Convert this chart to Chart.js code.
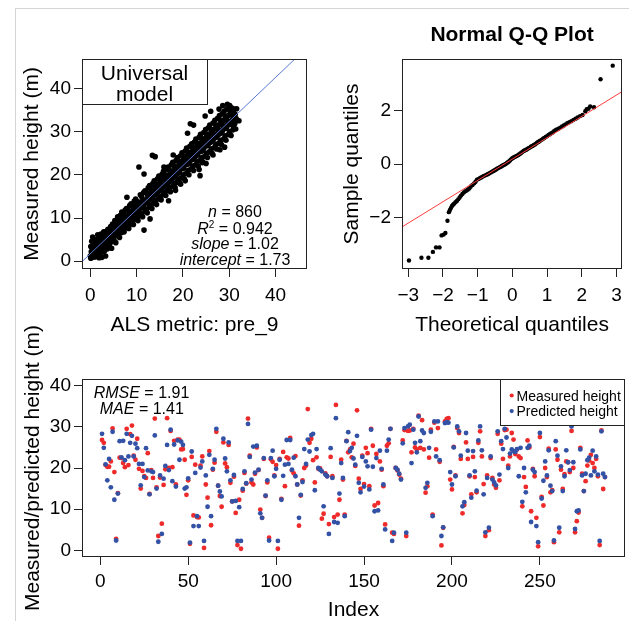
<!DOCTYPE html>
<html><head><meta charset="utf-8">
<script src="https://cdn.jsdelivr.net/npm/chart.js@4"></script>
<style>
html,body{margin:0;padding:0;background:#fff;}
#wrap{position:relative;width:629px;height:621px;overflow:hidden;background:#fff;}
canvas{position:absolute;left:0;top:0;}
</style>
</head><body><div id="wrap"></div>
<script>
const FONT = '"Liberation Sans", Arial, Helvetica, sans-serif';

// ---------- Panel 1: universal model ----------
const panel1XTitle = 'ALS metric: pre_9';
const panel1YTitle = 'Measured height (m)';
const panel1Label = ['Universal', 'model'];
const fitN = 860, fitR2 = 0.942, fitSlope = 1.02, fitIntercept = 1.73;
// [ALS metric, measured height]
const alsVsMeasured = [
[0.0,1.2],[0.1,3.4],[0.1,0.7],[0.2,2.2],[0.3,4.6],[0.3,1.5],[0.4,2.9],[0.5,0.9],[0.5,5.6],[0.6,2.0],[0.7,3.6],[0.8,1.3],[0.8,4.2],[0.9,2.6],
[1.0,1.0],[1.1,3.9],[1.1,2.2],[1.2,5.0],[1.3,1.6],[1.4,3.1],[1.5,4.4],[1.5,2.5],[1.6,6.1],[1.7,1.1],[1.7,3.5],[1.8,2.8],[1.9,4.9],[1.9,0.8],
[2.0,3.3],[2.1,5.2],[2.1,1.7],[2.2,4.0],[2.3,6.3],[2.4,2.6],[2.5,4.6],[2.5,0.9],[2.6,3.6],[2.7,5.5],[2.8,2.2],[2.8,4.3],[2.9,6.8],[2.9,3.1],
[3.0,4.1],[3.1,2.4],[3.1,5.9],[3.2,4.8],[3.3,1.2],[3.4,3.6],[3.5,5.3],[3.5,6.9],[3.6,4.4],[3.7,2.9],[3.8,5.7],[3.8,7.4],[3.9,4.9],[3.9,3.3],
[4.0,5.6],[4.1,3.5],[4.1,7.2],[4.2,6.1],[4.3,4.3],[4.4,8.0],[4.5,5.2],[4.5,6.6],[4.6,3.0],[4.7,7.5],[4.8,5.9],[4.8,8.6],[4.9,6.4],[4.9,4.6],
[5.0,6.7],[5.1,8.6],[5.1,5.1],[5.2,7.3],[5.3,9.4],[5.4,6.0],[5.5,7.9],[5.5,4.3],[5.6,7.0],[5.7,9.1],[5.8,6.3],[5.8,8.3],[5.9,10.3],[5.9,7.6],
[6.0,8.2],[6.1,6.2],[6.1,9.8],[6.2,7.6],[6.3,5.5],[6.4,8.9],[6.5,10.6],[6.5,7.2],[6.6,8.5],[6.7,6.6],[6.8,9.5],[6.8,11.4],[6.9,8.0],[6.9,9.1],
[7.0,9.3],[7.1,7.4],[7.1,10.9],[7.2,8.6],[7.3,6.8],[7.4,10.0],[7.5,11.8],[7.5,8.9],[7.6,9.6],[7.7,7.8],[7.8,10.6],[7.8,12.2],[7.9,9.2],[7.9,14.8],
[8.0,10.1],[8.1,8.2],[8.1,11.9],[8.2,9.6],[8.3,7.6],[8.4,11.0],[8.5,12.9],[8.5,9.9],[8.6,10.5],[8.7,8.6],[8.8,11.6],[8.8,13.3],[8.9,10.2],[8.9,11.1],
[9.0,11.2],[9.1,9.1],[9.1,12.8],[9.2,10.5],[9.3,8.5],[9.4,12.1],[9.5,13.9],[9.5,10.8],[9.6,11.5],[9.7,9.7],[9.8,12.7],[9.8,14.4],[9.9,11.3],[9.9,12.1],
[10.0,12.2],[10.1,10.1],[10.1,13.8],[10.2,11.5],[10.3,9.4],[10.4,13.1],[10.5,21.8],[10.5,11.8],[10.6,12.6],[10.7,10.6],[10.8,13.7],[10.8,15.4],[10.9,12.3],[10.9,13.1],
[11.0,13.1],[11.1,11.0],[11.1,14.9],[11.2,12.5],[11.3,10.3],[11.4,14.2],[11.5,15.9],[11.5,12.9],[11.6,20.2],[11.6,7.2],[11.7,13.6],[11.8,11.6],[11.8,16.3],[11.9,13.9],
[12.0,14.2],[12.1,12.0],[12.1,15.9],[12.2,13.5],[12.3,11.2],[12.4,15.2],[12.5,17.0],[12.5,13.9],[12.6,14.6],[12.7,12.5],[12.8,15.8],[12.8,17.5],[12.9,14.3],[12.9,9.8],
[13.0,15.1],[13.1,13.0],[13.1,16.8],[13.2,14.5],[13.3,12.2],[13.4,24.5],[13.4,16.2],[13.5,18.0],[13.5,14.9],[13.6,15.7],[13.7,13.4],[13.8,16.9],[13.8,18.6],[13.9,15.3],
[14.0,16.2],[14.0,24.2],[14.1,14.0],[14.1,17.9],[14.2,15.5],[14.3,13.1],[14.4,17.2],[14.5,19.1],[14.5,15.9],[14.6,16.7],[14.7,14.4],[14.8,17.9],[14.8,19.7],[14.9,16.3],
[15.0,17.2],[15.1,14.9],[15.1,18.9],[15.2,16.5],[15.3,14.2],[15.4,18.2],[15.5,20.1],[15.5,16.9],[15.6,17.6],[15.7,15.4],[15.8,18.9],[15.8,20.8],[15.9,17.3],[15.9,21.8],
[16.0,18.1],[16.1,16.0],[16.1,20.0],[16.2,17.5],[16.3,15.2],[16.4,19.3],[16.5,21.2],[16.5,17.9],[16.6,18.6],[16.7,16.4],[16.8,19.9],[16.8,21.8],[16.9,18.3],[16.9,14.0],
[17.0,19.2],[17.1,17.0],[17.1,21.0],[17.2,18.5],[17.3,16.1],[17.4,20.3],[17.5,22.3],[17.5,18.9],[17.6,19.6],[17.7,17.3],[17.8,20.9],[17.8,22.9],[17.9,19.3],[17.9,24.6],
[18.0,20.2],[18.1,18.0],[18.1,22.1],[18.2,19.5],[18.3,17.1],[18.4,16.4],[18.4,21.3],[18.5,23.3],[18.5,20.0],[18.6,20.7],[18.7,18.3],[18.8,22.0],[18.8,24.0],[18.9,20.3],
[19.0,21.2],[19.1,19.0],[19.1,23.1],[19.2,20.6],[19.3,18.1],[19.4,22.4],[19.5,24.4],[19.5,17.8],[19.6,21.7],[19.7,19.3],[19.8,23.1],[19.8,25.1],[19.9,21.4],[19.9,22.3],
[20.0,22.2],[20.1,20.0],[20.1,24.2],[20.2,21.6],[20.3,19.0],[20.4,23.4],[20.5,25.5],[20.5,18.6],[20.6,22.7],[20.7,20.3],[20.8,24.2],[20.8,26.2],[20.9,22.4],[20.9,23.3],
[21.0,23.3],[21.0,29.6],[21.1,21.0],[21.1,25.2],[21.2,22.6],[21.3,20.0],[21.4,24.5],[21.5,26.6],[21.5,23.0],[21.6,31.8],[21.6,23.7],[21.7,21.3],[21.8,25.3],[21.9,27.2],
[22.0,24.3],[22.1,22.0],[22.1,26.3],[22.2,23.6],[22.3,31.5],[22.3,21.0],[22.4,25.5],[22.5,27.6],[22.5,24.0],[22.6,24.7],[22.7,22.3],[22.8,26.3],[22.8,28.3],[22.9,24.4],
[23.0,25.3],[23.1,23.0],[23.1,27.3],[23.2,24.6],[23.3,22.0],[23.4,26.6],[23.5,28.7],[23.5,21.2],[23.6,25.7],[23.7,19.8],[23.7,23.3],[23.8,27.4],[23.8,29.4],[23.9,25.4],
[24.0,26.3],[24.1,24.0],[24.1,28.4],[24.2,22.8],[24.2,25.6],[24.3,23.0],[24.4,27.6],[24.5,29.8],[24.5,26.1],[24.6,26.8],[24.7,24.3],[24.8,33.6],[24.8,28.4],[24.9,30.5],
[25.0,27.3],[25.0,22.6],[25.1,25.0],[25.1,29.4],[25.2,26.7],[25.3,24.0],[25.4,28.7],[25.5,30.9],[25.5,27.1],[25.6,27.8],[25.7,25.3],[25.8,29.5],[25.8,31.5],[25.9,27.5],
[26.0,28.3],[26.0,34.7],[26.1,26.0],[26.1,30.5],[26.2,27.7],[26.3,25.0],[26.4,29.8],[26.5,24.6],[26.5,32.0],[26.6,28.1],[26.7,28.8],[26.8,26.3],[26.8,30.6],[26.9,32.6],
[27.0,29.3],[27.1,27.0],[27.1,31.5],[27.2,28.7],[27.3,26.0],[27.4,30.8],[27.5,33.1],[27.5,29.1],[27.6,29.8],[27.7,27.3],[27.8,35.2],[27.8,31.6],[27.9,33.7],[27.9,29.5],
[28.0,30.3],[28.0,25.8],[28.1,28.0],[28.1,32.6],[28.2,29.7],[28.3,27.0],[28.4,31.9],[28.5,34.2],[28.5,30.1],[28.6,36.0],[28.7,30.8],[28.8,28.3],[28.8,32.6],[28.9,34.7],
[29.0,31.3],[29.0,26.4],[29.1,29.0],[29.1,33.6],[29.2,30.7],[29.3,28.0],[29.4,32.9],[29.5,35.2],[29.5,31.1],[29.6,36.3],[29.7,31.8],[29.8,29.3],[29.8,33.7],[29.9,35.7],
[30.0,32.3],[30.1,36.0],[30.1,30.0],[30.2,34.6],[30.3,31.7],[30.4,29.1],[30.5,33.9],[30.5,35.5],[30.6,32.1],[30.7,32.8],[30.8,30.4],[30.9,34.5],[31.0,33.2],[31.1,35.2],
[31.2,31.8],[31.3,34.0],[31.5,33.0],[31.6,35.3],[31.8,32.6],[32.1,32.5],[31.4,30.6],[30.9,31.2]
];

// ---------- Panel 2: normal Q-Q plot ----------
const qqTitle = 'Normal Q-Q Plot';
const qqXTitle = 'Theoretical quantiles';
const qqYTitle = 'Sample quantiles';
const qqLineSlope = 0.80, qqLineIntercept = 0.19;
const qqPoints = [
[-2.98,-3.61],[-2.62,-3.51],[-2.42,-3.51],[-2.29,-3.29],[-2.20,-3.12],[-2.10,-3.12],[-2.04,-2.67],[-1.98,-2.64],[-1.93,-2.58],[-1.87,-2.12],[-1.83,-1.80],[-1.80,-1.72],[-1.77,-1.64],[-1.74,-1.57],[-1.71,-1.52],[-1.68,-1.48],[-1.64,-1.43],[-1.60,-1.38],[-1.56,-1.32],[-1.52,-1.25],[-1.48,-1.18],[-1.44,-1.12],[-1.40,-1.06],[-1.36,-1.02],[-1.32,-0.99],[-1.28,-0.95],[-1.24,-0.91],[-1.20,-0.84],
[-1.15,-0.78],[-1.10,-0.72],[-1.06,-0.66],[-1.02,-0.58],[-0.98,-0.56],[-0.94,-0.53],[-0.90,-0.50],[-0.86,-0.47],[-0.82,-0.44],[-0.78,-0.42],[-0.74,-0.40],[-0.70,-0.37],[-0.66,-0.34],[-0.62,-0.31],[-0.58,-0.28],[-0.55,-0.26],[-0.52,-0.24],[-0.49,-0.21],[-0.46,-0.19],[-0.43,-0.16],[-0.40,-0.14],[-0.37,-0.12],[-0.34,-0.10],[-0.31,-0.08],[-0.28,-0.05],[-0.25,-0.03],[-0.22,-0.01],[-0.19,0.01],[-0.16,0.04],[-0.13,0.07],[-0.10,0.10],[-0.07,0.14],[-0.04,0.18],[-0.01,0.21],
[0.02,0.24],[0.05,0.26],[0.08,0.28],[0.11,0.30],[0.14,0.32],[0.17,0.34],[0.20,0.37],[0.23,0.40],[0.26,0.43],[0.29,0.46],[0.32,0.49],[0.35,0.51],[0.38,0.53],[0.41,0.55],[0.44,0.58],[0.47,0.60],[0.50,0.62],[0.53,0.65],[0.56,0.67],[0.59,0.69],[0.62,0.72],[0.65,0.74],[0.68,0.77],[0.71,0.80],[0.74,0.83],[0.77,0.85],[0.80,0.88],[0.84,0.91],[0.88,0.95],[0.92,0.98],[0.96,1.02],[1.00,1.05],[1.04,1.09],[1.08,1.12],[1.12,1.16],[1.16,1.19],[1.20,1.23],[1.24,1.27],[1.28,1.30],[1.33,1.33],[1.38,1.37],[1.43,1.41],[1.48,1.45],[1.53,1.49],[1.58,1.53],[1.64,1.57],[1.70,1.61],[1.76,1.66],[1.82,1.70],[1.88,1.75],[1.95,1.80],[2.02,1.84],[2.10,1.98],
[2.14,2.06],[2.19,2.08],[2.24,2.16],[2.35,2.13],[2.54,3.18],[2.89,3.69]
];

// ---------- Panel 3: measured vs predicted by index ----------
const panel3XTitle = 'Index';
const panel3YTitle = 'Measured/predicted height (m)';
const seriesNames = ['Measured height', 'Predicted height'];
const rmse = 1.91, mae = 1.41;
// [measured, predicted] for index 1..n
const measuredPredicted = [
[26.8,28.3],[26.1,24.9],[20.7,20.9],[20.3,17.0],[20.3,22.2],[21.6,15.3],[29.6,28.8],[19.0,12.3],[2.8,2.4],[13.9,13.8],
[22.5,26.5],[22.4,22.6],[21.2,26.6],[20.2,21.9],[29.5,28.3],[20.7,22.8],[28.2,26.1],[30.3,27.8],[23.0,22.8],[22.0,25.9],
[27.1,24.8],[19.8,21.0],[15.0,15.8],[19.3,21.0],[18.0,17.8],[17.6,24.8],[23.6,19.4],[13.7,13.6],[19.5,19.2],[17.6,19.0],
[32.0,27.9],[15.3,15.0],[3.5,2.1],[17.7,18.2],[6.5,4.0],[15.9,17.4],[19.7,20.5],[32.1,25.6],[20.0,19.5],[29.0,29.3],
[20.2,16.8],[26.6,25.7],[16.0,15.5],[26.9,26.7],[26.9,22.0],[24.5,26.4],[24.6,25.6],[22.0,15.0],[13.5,15.3],[17.0,17.5],
[1.6,1.9],[22.7,24.0],[8.5,5.9],[20.8,18.8],
[8.1,8.3],[8.0,5.9],[20.6,20.1],[22.8,21.6],[0.6,2.3],[16.0,18.2],[12.8,10.6],[24.1,23.2],[6.1,8.3],[19.6,19.8],
[21.3,22.0],[28.8,29.5],[15.7,15.7],[13.2,14.3],[10.6,13.1],[26.2,27.1],[21.1,22.3],[20.2,19.2],[25.6,26.2],[16.4,17.0],
[11.9,11.9],[17.9,18.3],[9.1,12.0],[1.3,2.3],[12.3,10.5],[0.4,2.3],[14.5,14.9],[18.8,19.2],[16.2,16.3],[32.0,30.7],
[23.0,22.7],[16.5,17.2],[16.0,25.2],[18.6,18.9],[25.0,25.4],[19.5,19.6],[9.9,9.0],[7.9,7.9],[22.2,22.4],[13.2,13.3],
[16.5,17.0],[3.1,2.4],[22.1,22.4],[21.5,24.2],[18.2,18.0],[20.7,19.8],[0.4,2.3],[22.2,22.0],[12.5,12.3],[23.9,18.1],
[15.6,20.8],[22.6,26.8],[22.3,21.0],[27.3,26.8],[19.4,19.6],[18.7,22.5],[22.9,18.0],[16.0,16.0],[6.0,7.9],[13.3,13.5],
[17.0,16.6],[20.0,24.6],[20.6,21.0],[34.3,26.9],[26.1,24.0],[27.1,28.0],[21.9,28.3],[16.5,14.6],[22.6,24.6],[19.8,20.0],
[19.9,19.6],[7.7,19.2],[8.9,10.7],[18.7,18.4],[18.0,18.0],[6.4,4.0],[22.7,24.8],[18.0,17.6],
[8.1,6.9],[35.3,32.1],[8.7,6.7],[12.3,13.8],[22.0,21.2],[17.2,17.6],[8.7,8.3],[26.6,26.5],[23.8,28.7],[24.5,24.1],
[22.6,24.9],[25.9,22.3],[20.5,20.8],[34.0,27.8],[17.4,16.4],[14.9,14.1],[23.0,22.7],[16.1,15.5],[24.9,21.6],[23.6,20.4],
[15.6,14.8],[29.5,29.3],[25.4,20.3],[10.9,9.5],[23.4,22.4],[11.5,9.7],[21.6,24.2],[19.6,19.8],[15.6,16.0],[6.3,5.1],
[25.4,24.2],[26.0,26.9],[29.5,29.5],[4.3,2.3],[4.0,4.3],[20.0,20.0],[19.4,19.6],[18.4,18.6],[17.4,17.2],[26.7,26.0],
[29.2,29.7],[3.5,4.3],[29.0,30.1],[29.1,30.5],[23.8,21.2],[29.5,29.3],[25.0,26.1],[24.5,23.8],[32.7,32.5],[24.9,26.5],
[31.6,29.1],[24.5,28.5],[14.0,15.2],[15.6,16.4],[22.5,24.9],[29.3,28.8],[8.7,8.3],[31.0,31.3],[24.5,22.8],[29.7,31.3],
[21.5,21.9],[1.2,3.5],[5.5,5.6],[31.3,30.9],[31.9,31.1],[32.1,31.0],[17.2,19.0],[14.8,16.0],[25.1,25.0],[18.2,18.0],
[29.7,30.1],[28.5,28.9],[22.2,23.0],[9.0,10.7],[11.0,11.7],[26.2,28.5],[22.2,24.2],[18.0,18.2],
[13.6,12.8],[22.7,24.1],[17.8,19.2],[14.1,14.5],[26.1,26.7],[28.9,30.1],[22.8,24.3],[16.1,13.6],[3.5,4.4],[18.2,17.6],
[4.9,5.5],[22.4,22.8],[17.6,17.2],[16.0,16.5],[15.2,15.8],[28.3,28.9],[17.0,18.4],[25.9,26.5],[22.2,24.6],[29.2,29.5],
[29.3,27.4],[20.6,20.0],[22.8,23.5],[28.5,24.5],[26.9,24.1],[23.4,23.9],[24.5,24.6],[22.8,18.0],[22.4,24.9],[10.7,11.8],
[17.8,20.0],[15.4,14.1],[26.7,24.9],[25.0,25.4],[9.5,6.9],[19.8,19.6],[18.0,19.0],[7.9,5.9],[1.0,2.0],[27.5,28.5],
[13.0,12.6],[10.9,16.9],[20.0,21.6],[17.8,18.2],[24.7,24.3],[14.1,15.7],[14.6,14.4],[2.0,2.4],[24.5,26.5],[22.0,23.0],
[4.4,5.5],[19.6,20.4],[14.9,14.4],[18.5,18.0],[21.6,24.3],[21.4,21.4],[19.0,19.5],[29.0,30.1],[20.0,21.4],[4.4,5.2],
[7.1,9.5],[9.2,9.7],[24.9,24.5],[18.6,18.2],[14.4,14.4],[16.8,18.6],[20.6,21.9],[21.8,22.5],[23.2,18.2],[21.2,24.2],
[20.0,19.2],[22.2,22.8],[18.0,18.4],[1.3,2.3],[29.1,28.9],[14.9,18.6],[17.8,17.8]
];

// ---------- styles ----------
const RED = '#EE2a2a', BLUE = '#3352a6';
const W = 629, H = 621;

function makeCanvas() {
  const c = document.createElement('canvas');
  c.width = W; c.height = H;
  c.style.width = W + 'px'; c.style.height = H + 'px';
  document.getElementById('wrap').appendChild(c);
  return c.getContext('2d');
}
const fmt = v => (v < 0 ? '\u2212' : '') + Math.abs(v);

function linAxis(o) {
  return {
    type: 'linear', position: o.pos, min: o.min, max: o.max,
    ticks: { stepSize: o.step, includeBounds: false, autoSkip: false, maxRotation: 0, minRotation: 0,
      padding: o.pad, color: '#000', font: { family: FONT, size: 19 }, callback: v => fmt(v) },
    grid: { display: true, drawOnChartArea: false, drawTicks: true, tickLength: 8, tickColor: '#222', tickWidth: 1, color: '#222', lineWidth: 1 },
    border: { display: false },
    title: o.title ? { display: true, text: o.title, color: '#000', font: { family: FONT, size: 21, lineHeight: 1 }, padding: 0 } : { display: false },
    afterFit: s => { if (o.pos === 'bottom') s.height = o.size; else s.width = o.size; }
  };
}

const boxPlugin = {
  id: 'box',
  afterDatasetsDraw(chart) {
    const { ctx, chartArea: a } = chart;
    ctx.save();
    ctx.strokeStyle = '#222'; ctx.lineWidth = 1;
    ctx.strokeRect(Math.round(a.left) + 0.5, Math.round(a.top) + 0.5, Math.round(a.right - a.left) - 1, Math.round(a.bottom - a.top) - 1);
    ctx.restore();
  }
};

function drawRuns(ctx, runs, cx, baseY, size) {
  const fonts = runs.map(r => (r.italic ? 'italic ' : '') + (r.sup ? Math.round(size * 0.62) : size) + 'px ' + FONT);
  let total = 0;
  const widths = runs.map((r, i) => { ctx.font = fonts[i]; const w = ctx.measureText(r.t).width; total += w; return w; });
  let x = cx - total / 2;
  ctx.textAlign = 'left'; ctx.textBaseline = 'alphabetic'; ctx.fillStyle = '#000';
  runs.forEach((r, i) => { ctx.font = fonts[i]; ctx.fillText(r.t, x, baseY + (r.sup ? -size * 0.36 : 0)); x += widths[i]; });
}

const framePlugin = {
  id: 'frame',
  beforeDraw(chart) {
    const ctx = chart.ctx;
    ctx.save();
    ctx.strokeStyle = '#d4d4d4'; ctx.lineWidth = 1;
    ctx.beginPath();
    ctx.moveTo(15.5, 8); ctx.lineTo(15.5, H);
    ctx.moveTo(15, 8.5); ctx.lineTo(W, 8.5);
    ctx.stroke();
    ctx.restore();
  }
};

const panel1Text = {
  id: 'p1text',
  afterDraw(chart) {
    const { ctx, chartArea: a } = chart;
    ctx.save();
    const bx = a.left, by = a.top, bw = 125, bh = 45;
    ctx.fillStyle = '#fff';
    ctx.fillRect(bx, by, bw, bh);
    ctx.strokeStyle = '#222'; ctx.lineWidth = 1;
    ctx.strokeRect(Math.round(bx) + 0.5, Math.round(by) + 0.5, bw, bh);
    ctx.fillStyle = '#000'; ctx.textAlign = 'center'; ctx.textBaseline = 'alphabetic';
    ctx.font = '21px ' + FONT;
    ctx.fillText(panel1Label[0], bx + bw / 2, 80);
    ctx.fillText(panel1Label[1], bx + bw / 2, 100.5);
    const cx = 235;
    drawRuns(ctx, [{ t: 'n', italic: true }, { t: ' = ' + fitN }], cx, 217, 16);
    drawRuns(ctx, [{ t: 'R', italic: true }, { t: '2', sup: true }, { t: ' = ' + fitR2.toFixed(3) }], cx, 233.5, 16);
    drawRuns(ctx, [{ t: 'slope', italic: true }, { t: ' = ' + fitSlope.toFixed(2) }], cx, 249, 16);
    drawRuns(ctx, [{ t: 'intercept', italic: true }, { t: ' = ' + fitIntercept.toFixed(2) }], cx, 264.5, 16);
    ctx.restore();
  }
};

const panel3Text = {
  id: 'p3text',
  afterDraw(chart) {
    const { ctx, chartArea: a } = chart;
    ctx.save();
    ctx.translate(33, (a.top + a.bottom) / 2);
    ctx.rotate(-Math.PI / 2);
    ctx.font = '21px ' + FONT; ctx.fillStyle = '#000';
    ctx.textAlign = 'center'; ctx.textBaseline = 'middle';
    ctx.fillText(panel3YTitle, 0, 0);
    ctx.restore();
    ctx.save();
    drawRuns(ctx, [{ t: 'RMSE', italic: true }, { t: ' = ' + rmse.toFixed(2) }], 141.5, 398, 16);
    drawRuns(ctx, [{ t: 'MAE', italic: true }, { t: ' = ' + mae.toFixed(2) }], 141.8, 413.5, 16);
    const lx = 500, ly = a.top, lw = a.right - 500, lh = 46;
    ctx.fillStyle = '#fff'; ctx.fillRect(lx, ly, lw, lh);
    ctx.strokeStyle = '#222'; ctx.lineWidth = 1;
    ctx.strokeRect(lx + 0.5, Math.round(ly) + 0.5, lw - 1, lh);
    const ds = chart.data.datasets;
    const order = [ds.find(d => d.label === seriesNames[0]), ds.find(d => d.label === seriesNames[1])];
    order.forEach((d, i) => {
      const y = 395.5 + i * 15.6;
      ctx.fillStyle = d.backgroundColor;
      ctx.beginPath(); ctx.arc(511.7, y, 2.1, 0, Math.PI * 2); ctx.fill();
      ctx.fillStyle = '#000'; ctx.font = '14px ' + FONT;
      ctx.textAlign = 'left'; ctx.textBaseline = 'alphabetic';
      ctx.fillText(d.label, 516.5, y + 5);
    });
    ctx.restore();
  }
};

const common = { responsive: false, animation: false, events: [],
  plugins: { legend: { display: false }, tooltip: { enabled: false } } };

// ---------- Chart 1 ----------
const p1Min = -1.8, p1Max = 46.8;
new Chart(makeCanvas(), {
  type: 'scatter',
  data: { datasets: [
    { type: 'line', data: [p1Min, p1Max].map(x => ({ x, y: fitIntercept + fitSlope * x })),
      borderColor: '#5a78d0', borderWidth: 1, pointRadius: 0, showLine: true, fill: false, order: 0 },
    { data: alsVsMeasured.map(([x, y]) => ({ x, y })), backgroundColor: '#000', pointRadius: 2.8, pointBorderWidth: 0, borderWidth: 0, order: 1 }
  ] },
  options: Object.assign({}, common, {
    layout: { padding: { left: 22, top: 59, right: 322, bottom: 284.8 } },
    scales: {
      x: linAxis({ pos: 'bottom', min: p1Min, max: p1Max, step: 10, title: panel1XTitle, size: 67.2, pad: 7 }),
      y: linAxis({ pos: 'left', min: p1Min, max: p1Max, step: 10, title: panel1YTitle, size: 60, pad: 3 })
    }
  }),
  plugins: [framePlugin, boxPlugin, panel1Text]
});

// ---------- Chart 2 ----------
const qqXMin = -3.18, qqXMax = 3.16;
new Chart(makeCanvas(), {
  type: 'scatter',
  data: { datasets: [
    { type: 'line', data: [qqXMin, qqXMax].map(x => ({ x, y: qqLineIntercept + qqLineSlope * x })),
      borderColor: '#ff3b3b', borderWidth: 1, pointRadius: 0, showLine: true, fill: false, order: 0 },
    { data: qqPoints.map(([x, y]) => ({ x, y })), backgroundColor: '#000', pointRadius: 2.2, pointBorderWidth: 0, borderWidth: 0, order: 1 }
  ] },
  options: Object.assign({}, common, {
    layout: { padding: { left: 341.5, top: 0, right: 2, bottom: 284.8 } },
    plugins: { legend: { display: false }, tooltip: { enabled: false },
      title: { display: true, text: qqTitle, fullSize: false, color: '#000',
        font: { family: FONT, size: 21, weight: 'bold', lineHeight: 1 }, padding: { top: 25.2, bottom: 12.8 } } },
    scales: {
      x: linAxis({ pos: 'bottom', min: qqXMin, max: qqXMax, step: 1, title: qqXTitle, size: 67.2, pad: 7 }),
      y: linAxis({ pos: 'left', min: -3.93, max: 3.94, step: 2, title: qqYTitle, size: 60.5, pad: 3 })
    }
  }),
  plugins: [boxPlugin]
});

// ---------- Chart 3 ----------
new Chart(makeCanvas(), {
  type: 'scatter',
  data: { datasets: [
    { label: seriesNames[0], data: measuredPredicted.map((d, i) => ({ x: i + 1, y: d[0] })),
      backgroundColor: RED, pointRadius: 2.4, pointBorderWidth: 0, borderWidth: 0, order: 2 },
    { label: seriesNames[1], data: measuredPredicted.map((d, i) => ({ x: i + 1, y: d[1] })),
      backgroundColor: BLUE, pointRadius: 2.4, pointBorderWidth: 0, borderWidth: 0, order: 1 }
  ] },
  options: Object.assign({}, common, {
    layout: { padding: { left: 22, top: 379, right: 2, bottom: 0 } },
    scales: {
      x: linAxis({ pos: 'bottom', min: -10.4, max: 298.4, step: 50, title: panel3XTitle, size: 64, pad: 5 }),
      y: linAxis({ pos: 'left', min: -1.6, max: 41.6, step: 10, title: null, size: 60, pad: 3 })
    }
  }),
  plugins: [boxPlugin, panel3Text]
});
</script>
</body></html>
